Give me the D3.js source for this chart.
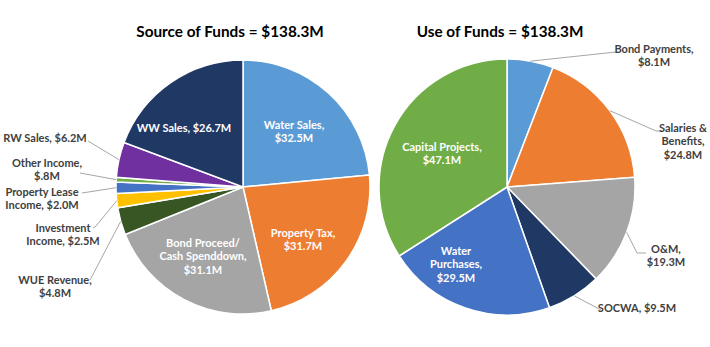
<!DOCTYPE html>
<html>
<head>
<meta charset="utf-8">
<script src="https://cdn.jsdelivr.net/npm/d3@7"></script>
<style>
  body { margin: 0; background: #fff; }
  svg { display: block; font-family: Lato, "Open Sans", sans-serif; }
</style>
</head>
<body>
<div id="chart"></div>
<script>
// funds data, in $M
const sourceNames = ["Water Sales", "Property Tax", "Bond Proceed/ Cash Spenddown", "WUE Revenue",
  "Investment Income", "Property Lease Income", "Other Income", "RW Sales", "WW Sales"]
const sourceValues = [32.5, 31.7, 31.1, 4.8, 2.5, 2.0, 0.8, 6.2, 26.7]
const sourceLabels = [["Water Sales,", "$32.5M"], ["Property Tax,", "$31.7M"],
  ["Bond Proceed/", "Cash Spenddown,", "$31.1M"], ["WUE Revenue,", "$4.8M"],
  ["Investment", "Income, $2.5M"], ["Property Lease", "Income, $2.0M"],
  ["Other Income,", "$.8M"], ["RW Sales, $6.2M"], ["WW Sales, $26.7M"]]
const sourceColors = ["#5b9bd5", "#ed7d31", "#a5a5a5", "#375623", "#ffc000", "#4472c4", "#70ad47", "#7030a0", "#203864"]

const useNames = ["Bond Payments", "Salaries & Benefits", "O&M", "SOCWA", "Water Purchases", "Capital Projects"]
const useValues = [8.1, 24.8, 19.3, 9.5, 29.5, 47.1]
const useLabels = [["Bond Payments,", "$8.1M"], ["Salaries &", "Benefits,", "$24.8M"], ["O&M,", "$19.3M"],
  ["SOCWA, $9.5M"], ["Water", "Purchases,", "$29.5M"], ["Capital Projects,", "$47.1M"]]
const useColors = ["#5b9bd5", "#ed7d31", "#a5a5a5", "#1f3864", "#4472c4", "#70ad47"]

// label placement: inside = text center, outside = text center + leader attach point (+ optional elbow)
const sourceLayout = [
  {inside: [294, 125]}, {inside: [303, 233]}, {inside: [203, 243]},
  {text: [55, 280], attach: [90, 280]},
  {text: [63, 228], attach: [93, 228], elbow: [96, 226]},
  {text: [42, 192], attach: [82, 193]},
  {text: [47, 163], attach: [80, 173]},
  {text: [45, 138], attach: [88, 141]},
  {inside: [184, 128]}
]
const useLayout = [
  {text: [654, 49], attach: [616, 52]},
  {text: [683, 128], attach: [662, 131], elbow: [656, 131]},
  {text: [666, 249], attach: [646, 253], elbow: [637, 253]},
  {text: [637, 308], attach: [601, 310]},
  {inside: [456, 251]}, {inside: [442, 147]}
]

const width = 710, height = 347
const svg = d3.select("#chart").append("svg")
  .attr("width", width).attr("height", height)

function drawPie(cx, cy, r, title, titleX, names, values, labels, colors, layout) {
  const pie = d3.pie().sort(null).value(d => d.value)
  const arcs = pie(names.map((n, i) => ({name: n, value: values[i], label: labels[i], color: colors[i], lay: layout[i]})))
  const arc = d3.arc().innerRadius(0).outerRadius(r)
  const edge = d3.arc().innerRadius(r).outerRadius(r)

  const g = svg.append("g").attr("transform", `translate(${cx},${cy})`)
  g.selectAll("path")
    .data(arcs)
    .join("path")
    .attr("d", arc)
    .attr("fill", d => d.data.color)
    .attr("stroke", "#fff")
    .attr("stroke-width", 1.5)

  // leader lines for outside labels
  const outside = arcs.filter(d => d.data.lay.text)
  svg.append("g").selectAll("polyline")
    .data(outside)
    .join("polyline")
    .attr("fill", "none")
    .attr("stroke", "#a6a6a6")
    .attr("stroke-width", 1)
    .attr("points", d => {
      const p = edge.centroid(d)
      const pts = [[p[0] + cx, p[1] + cy]]
      if (d.data.lay.elbow) pts.push(d.data.lay.elbow)
      pts.push(d.data.lay.attach)
      return pts.map(q => q.join(",")).join(" ")
    })

  const lineH = 13.5
  svg.append("g").selectAll("text")
    .data(arcs)
    .join("text")
    .attr("text-anchor", "middle")
    .attr("font-size", 11)
    .attr("font-weight", 700)
    .attr("fill", d => d.data.lay.inside ? "#fff" : "#404040")
    .each(function(d) {
      const pos = d.data.lay.inside || d.data.lay.text
      d3.select(this).selectAll("tspan")
        .data(d.data.label)
        .join("tspan")
        .attr("x", pos[0])
        .attr("y", (t, i) => pos[1] + i * lineH)
        .attr("dy", "0.35em")
        .text(t => t)
    })

  svg.append("text")
    .attr("x", titleX).attr("y", 37)
    .attr("text-anchor", "middle")
    .attr("font-size", 15.3)
    .attr("font-weight", 700)
    .attr("fill", "#000")
    .text(title)
}

drawPie(243, 187, 127, "Source of Funds = $138.3M", 230, sourceNames, sourceValues, sourceLabels, sourceColors, sourceLayout)
drawPie(507, 187, 128, "Use of Funds = $138.3M", 500, useNames, useValues, useLabels, useColors, useLayout)
</script>
</body>
</html>
